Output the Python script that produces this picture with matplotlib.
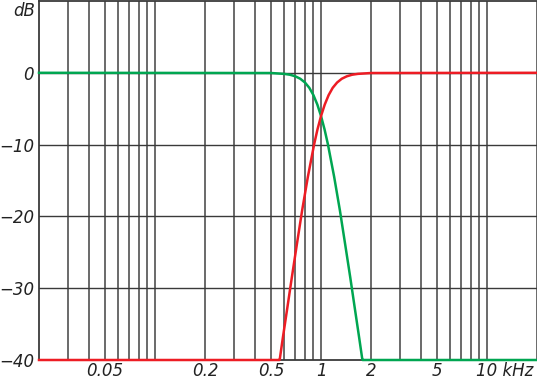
import matplotlib
matplotlib.use("Agg")
import matplotlib.pyplot as plt
from matplotlib.ticker import FixedLocator, NullFormatter

# Frequencies in kHz, levels in dB
lp_freq = [0.02, 0.5, 0.6, 0.65, 0.7, 0.75, 0.8, 0.85, 0.9, 0.95, 1.0,
           1.05, 1.1, 1.2, 1.3, 1.4, 1.5, 1.6, 1.7, 1.77, 1.78, 20]
lp_db = [0, -0.03, -0.15, -0.27, -0.49, -0.83, -1.35, -2.09, -3.11, -4.42, -6.02,
         -7.88, -9.95, -14.5, -19.2, -24.0, -28.5, -32.9, -37.0, -39.8, -40, -40]

hp_freq = [0.02, 0.562, 0.565, 0.588, 0.625, 0.667, 0.714, 0.769, 0.833, 0.909, 0.952,
           1.0, 1.053, 1.111, 1.176, 1.25, 1.333, 1.429, 1.538, 1.667, 2.0, 20]
hp_db = [-40, -40, -39.8, -37.0, -32.9, -28.5, -24.0, -19.2, -14.5, -9.95, -7.88,
         -6.02, -4.42, -3.11, -2.09, -1.35, -0.83, -0.49, -0.27, -0.15, -0.03, 0]

y_ticks = [0, -10, -20, -30, -40]
y_labels = ["0", "\u221210", "\u221220", "\u221230", "\u221240"]
x_label_ticks = [0.05, 0.2, 0.5, 1, 2, 5]
x_label_text = ["0.05", "0.2", "0.5", "1", "2", "5"]
grid_x = [0.03, 0.04, 0.05, 0.06, 0.07, 0.08, 0.09, 0.1,
          0.2, 0.3, 0.4, 0.5, 0.6, 0.7, 0.8, 0.9, 1,
          2, 3, 4, 5, 6, 7, 8, 9, 10, 20]

W, H = 537, 379
fig = plt.figure(figsize=(W / 100, H / 100), dpi=100)
ax = fig.add_axes([39 / W, 19 / H, 498 / W, 359 / H])
ax.set_xscale("log")
ax.set_xlim(0.02, 20)
ax.set_ylim(-40, 10)

gcol = "#505050"
for gx in grid_x:
    ax.axvline(gx, color=gcol, lw=1.2, zorder=1)
for gy in [0, -10, -20, -30]:
    ax.axhline(gy, color="#3a3a3a", lw=1.0, zorder=1)

ax.plot(lp_freq, lp_db, color="#00a651", lw=1.8, zorder=4, clip_on=False,
        solid_joinstyle="round")
ax.plot(hp_freq, hp_db, color="#ed1c24", lw=1.8, zorder=4, clip_on=False,
        solid_joinstyle="round")

for s in ["left", "top", "bottom"]:
    ax.spines[s].set_color("#3a3a3a")
    ax.spines[s].set_linewidth(1.3)
ax.spines["right"].set_visible(False)

ax.xaxis.set_major_locator(FixedLocator(x_label_ticks))
ax.xaxis.set_minor_locator(FixedLocator([]))
ax.set_xticklabels(x_label_text)
ax.xaxis.set_minor_formatter(NullFormatter())
ax.set_yticks(y_ticks)
ax.set_yticklabels(y_labels)

fs = 12
fkw = dict(family="DejaVu Sans", style="italic", size=fs, color="#222222")
ax.tick_params(axis="both", length=0)
ax.tick_params(axis="x", pad=1.5)
ax.tick_params(axis="y", pad=3.5)
for lab in ax.get_xticklabels() + ax.get_yticklabels():
    lab.set_fontfamily("DejaVu Sans")
    lab.set_fontstyle("italic")
    lab.set_fontsize(fs)
    lab.set_color("#222222")

ax.annotate("10 kHz", xy=(10, 0), xycoords=("data", "axes fraction"),
            xytext=(-7.8, -1.5), textcoords="offset points",
            ha="left", va="top", **fkw)
ax.annotate("dB", xy=(0, 1), xycoords="axes fraction",
            xytext=(-2.5, -7.5), textcoords="offset points",
            ha="right", va="center", **fkw)

fig.savefig("out.png", dpi=100)
